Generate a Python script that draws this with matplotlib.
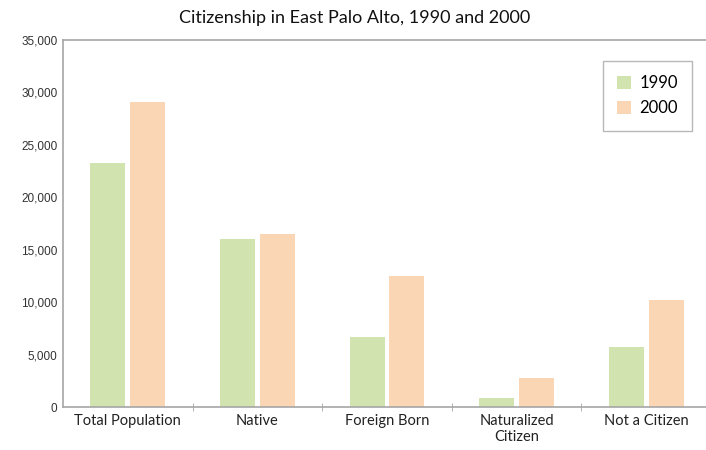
import numpy as np
import matplotlib.pyplot as plt
from matplotlib.ticker import FuncFormatter, FixedLocator

categories = ["Total Population", "Native", "Foreign Born", "Naturalized\nCitizen", "Not a Citizen"]
vals_1990 = [23300, 16050, 6650, 850, 5700]
vals_2000 = [29100, 16500, 12450, 2750, 10250]

green = "#d1e4b0"
peach = "#fbd6b5"
gray = "#a6a6a6"

fig = plt.figure(figsize=(7.06, 4.5), dpi=100)
ax = fig.add_axes([63 / 706, 1 - 407 / 450, 648 / 706, 367 / 450])

x = np.arange(len(categories))
w = 0.27
gap = 0.019
ax.bar(x - w / 2 - gap, vals_1990, w, color=green, label="1990")
ax.bar(x + w / 2 + gap, vals_2000, w, color=peach, label="2000")

ax.set_xlim(-0.5, len(categories) - 0.5)
ax.set_ylim(0, 35000)
ax.set_yticks(np.arange(0, 35001, 5000))
ax.yaxis.set_major_formatter(FuncFormatter(lambda v, p: f"{int(v):,}"))

ax.set_xticks(x)
ax.set_xticklabels(categories, fontsize=10.5, family="Lato", color="#222222")
ax.xaxis.set_minor_locator(FixedLocator(np.arange(0.5, len(categories) - 1, 1)))
ax.tick_params(axis="x", which="major", length=0, pad=5)
ax.tick_params(axis="x", which="minor", length=6, color=gray, direction="inout")
ax.tick_params(axis="y", length=0, labelsize=8.5, colors="#333333", pad=4)
for lab in ax.get_yticklabels():
    lab.set_family("Liberation Sans")

for s in ["left", "bottom", "top"]:
    ax.spines[s].set_color(gray)
    ax.spines[s].set_linewidth(1.2)
ax.spines["right"].set_visible(False)

fig.suptitle("Citizenship in East Palo Alto, 1990 and 2000", x=355 / 706, y=1 - 18 / 450,
             va="center", fontsize=13, family="Lato", color="#111111")

leg = ax.legend(loc="upper left", bbox_to_anchor=(603 / 706, 1 - 61 / 450),
                bbox_transform=fig.transFigure, borderaxespad=0, fancybox=False,
                edgecolor=gray, prop={"family": "Lato", "size": 12},
                handlelength=0.85, handleheight=0.85, handletextpad=0.5,
                borderpad=0.85, labelspacing=0.55)
leg.get_frame().set_linewidth(1.0)

fig.savefig("out.png", dpi=100)
